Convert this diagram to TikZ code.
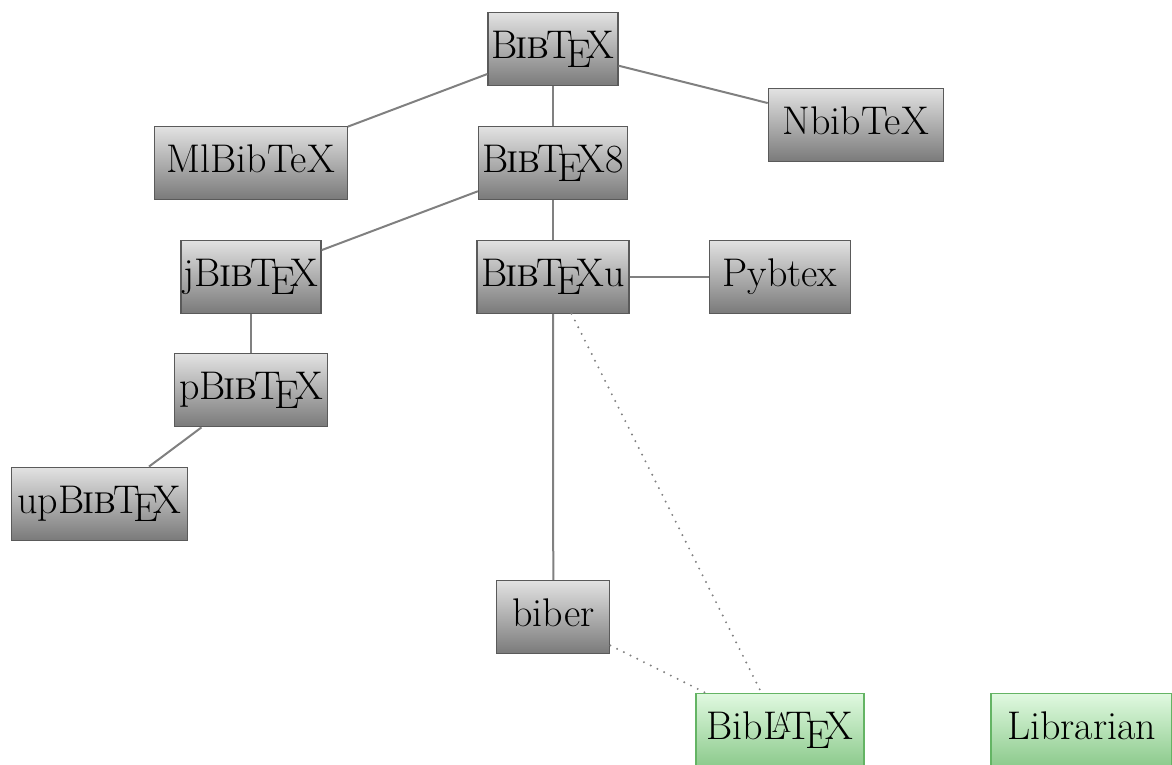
\documentclass[tikz,border=0pt]{standalone}
\usetikzlibrary{shadings}
\newcommand{\bibtexlogo}{B\kern-.05em{\scshape i\kern-.025em b}\kern-.08em\TeX}
\definecolor{gtop}{RGB}{226,226,226}
\definecolor{gbot}{RGB}{122,122,122}
\definecolor{gborder}{RGB}{90,90,90}
\definecolor{ntop}{RGB}{224,249,224}
\definecolor{nbot}{RGB}{140,202,140}
\definecolor{nborder}{RGB}{100,180,100}
\definecolor{edgecol}{RGB}{128,128,128}
\tikzset{
  box/.style={draw=gborder, line width=1.2pt, top color=gtop, bottom color=gbot,
    minimum height=73pt, inner xsep=2pt, inner ysep=0pt,
    text height=29pt, text depth=10pt, font=\fontsize{40}{46}\selectfont},
  newbox/.style={box, draw=nborder, top color=ntop, bottom color=nbot},
  link/.style={draw=edgecol, line width=2pt},
  dlink/.style={draw=edgecol, line width=2.2pt, line cap=round, dash pattern=on 0pt off 7.5pt}
}
\begin{document}
\begin{tikzpicture}[x=1pt,y=-1pt]
\useasboundingbox (0,0) rectangle (1172,764);
\node[box, minimum width=130pt] (bibtex) at (553,49.3) {\bibtexlogo};
\node[box, minimum width=193pt] (mlbibtex) at (250.8,163) {MlBibTeX};
\node[box, minimum width=149pt] (bibtex8) at (553,163) {\bibtexlogo8};
\node[box, minimum width=175pt] (nbibtex) at (855.8,125) {NbibTeX};
\node[box, minimum width=140pt] (jbibtex) at (251,276.7) {j\bibtexlogo};
\node[box, minimum width=152pt] (bibtexu) at (553,276.7) {\bibtexlogo u};
\node[box, minimum width=141pt] (pybtex) at (780,276.7) {Pybtex};
\node[box, minimum width=153pt] (pbibtex) at (251,390.3) {p\bibtexlogo};
\node[box, minimum width=176pt] (upbibtex) at (99.5,503.7) {up\bibtexlogo};
\node[box, minimum width=113pt] (biber) at (553.3,617) {biber};
\node[newbox, minimum width=168pt] (biblatex) at (780,730) {Bib\LaTeX};
\node[newbox, minimum width=181pt] (librarian) at (1081.5,730) {Librarian};
\draw[link] (bibtex) -- (mlbibtex);
\draw[link] (bibtex) -- (bibtex8);
\draw[link] (bibtex) -- (nbibtex);
\draw[link] (bibtex8) -- (jbibtex);
\draw[link] (bibtex8) -- (bibtexu);
\draw[link] (jbibtex) -- (pbibtex);
\draw[link] (pbibtex) -- (upbibtex);
\draw[link] (bibtexu) -- (pybtex);
\draw[link] (bibtexu) -- (biber);
\draw[dlink] (bibtexu) -- (biblatex);
\draw[dlink] (biber) -- (biblatex);
\end{tikzpicture}
\end{document}
